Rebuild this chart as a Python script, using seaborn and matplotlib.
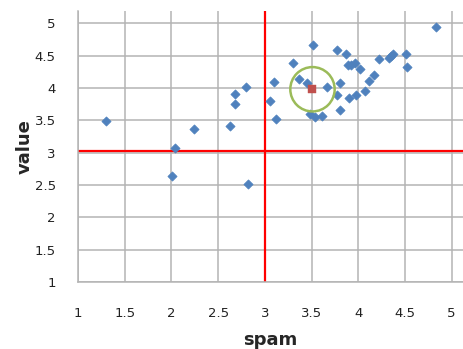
import matplotlib
matplotlib.use("Agg")
import matplotlib.pyplot as plt
import seaborn as sns
import pandas as pd

spam = [1.30, 2.01, 2.04, 2.24, 2.63, 2.68, 2.68, 2.80, 2.82, 3.05, 3.10, 3.12,
        3.30, 3.37, 3.45, 3.48, 3.52, 3.54, 3.61, 3.67, 3.77, 3.77, 3.80, 3.80,
        3.87, 3.89, 3.90, 3.92, 3.97, 3.98, 4.02, 4.07, 4.12, 4.17, 4.22, 4.33,
        4.35, 4.37, 4.51, 4.52, 4.83]
value = [3.49, 2.64, 3.07, 3.37, 3.41, 3.75, 3.91, 4.02, 2.52, 3.80, 4.09, 3.52,
         4.39, 4.14, 4.08, 3.59, 4.67, 3.55, 3.57, 4.01, 4.59, 3.89, 4.08, 3.66,
         4.53, 4.35, 3.85, 4.35, 4.38, 3.89, 4.29, 3.95, 4.11, 4.20, 4.45, 4.47,
         4.50, 4.52, 4.52, 4.32, 4.95]
center_x = [3.51]
center_y = [3.98]
vline_x = 3.0
hline_y = 3.03
xticks = [1, 1.5, 2, 2.5, 3, 3.5, 4, 4.5, 5]
yticks = [1, 1.5, 2, 2.5, 3, 3.5, 4, 4.5, 5]

sns.set_style("white")
plt.rcParams['font.family'] = ['DejaVu Sans']

fig = plt.figure(figsize=(4.63, 3.49), dpi=100)
ax = fig.add_axes([78/463, (349-282)/349, (462.7-78)/463, (282-11)/349])

df = pd.DataFrame({"spam": spam, "value": value})
grid_c = "#b4b4b4"
ax.set_axisbelow(True)
for t in xticks:
    ax.axvline(t, color=grid_c, lw=1.1, zorder=0)
for t in yticks:
    ax.axhline(t, color=grid_c, lw=1.1, zorder=0)

ax.axvline(vline_x, color="#ff0000", lw=1.6, zorder=1)
ax.axhline(hline_y, color="#ff0000", lw=1.6, zorder=1)

sns.scatterplot(data=df, x="spam", y="value", marker="D", s=22, color="#4f81bd",
                edgecolor="#4f81bd", linewidth=0.5, ax=ax, zorder=3)
cdf = pd.DataFrame({"x": center_x, "y": center_y})
sns.scatterplot(data=cdf, x="x", y="y", marker="s", s=38, color="#c0504d",
                edgecolor="#c0504d", linewidth=0.3, ax=ax, zorder=4)
ax.scatter(center_x, center_y, s=1020, facecolors="none", edgecolors="#9bbb59",
           linewidths=1.8, zorder=5)

ax.set_xlim(1, 5.118)
ax.set_ylim(1, 5.19)
ax.set_xticks(xticks)
ax.set_yticks(yticks)
ax.set_xticklabels([f"{t:g}" for t in xticks])
ax.set_yticklabels([f"{t:g}" for t in yticks])
ax.tick_params(axis="x", length=5, color=grid_c, width=1.1, pad=13, labelsize=9.5, labelcolor="#222222")
ax.tick_params(axis="y", length=6, color=grid_c, width=1.1, pad=10, labelsize=9.5, labelcolor="#222222")
for s in ["top", "right"]:
    ax.spines[s].set_visible(False)
for s in ["left", "bottom"]:
    ax.spines[s].set_color(grid_c)
    ax.spines[s].set_linewidth(1.1)
ax.grid(False)

ax.set_xlabel("spam", fontsize=13, fontweight="bold", labelpad=8)
ax.set_ylabel("value", fontsize=13, fontweight="bold", labelpad=1)

fig.savefig("out.png", dpi=100)
